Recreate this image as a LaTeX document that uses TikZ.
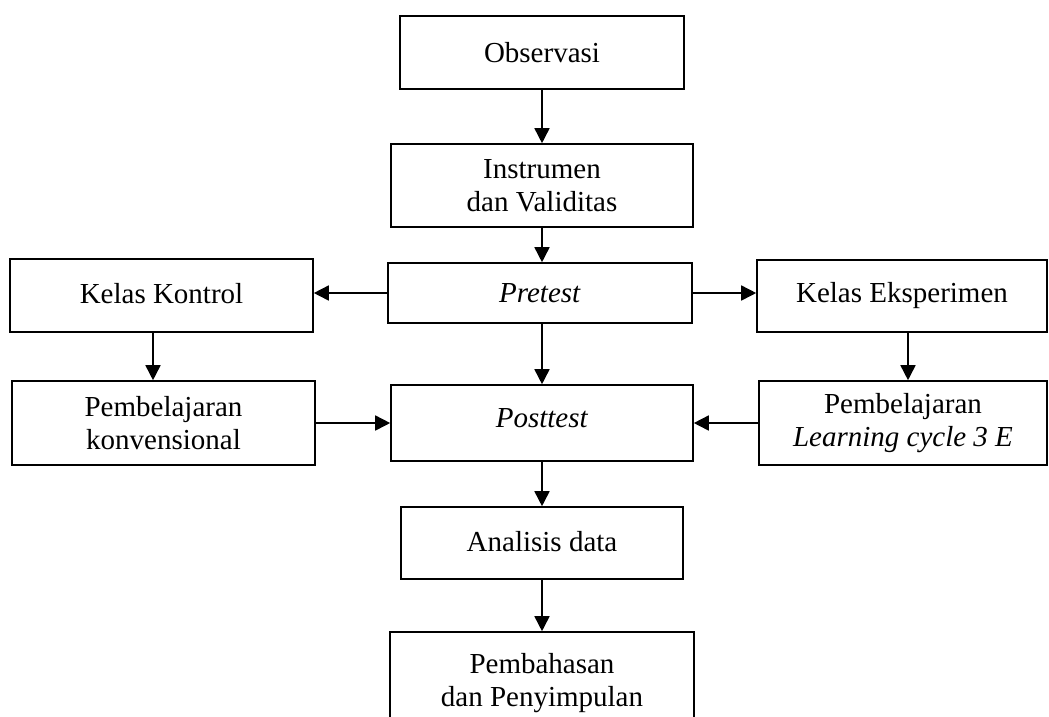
\documentclass[tikz,border=0pt]{standalone}
\usepackage{fontspec}
\setmainfont{Liberation Serif}
\usetikzlibrary{arrows.meta}
\begin{document}
\begin{tikzpicture}[x=1pt,y=-1pt,
  box/.style={draw,line width=1.6pt,rectangle,inner sep=0pt,align=center,
    font=\fontsize{29}{33}\selectfont},
  arr/.style={line width=1.6pt,-{Triangle[width=15pt,length=15pt]}}]
\useasboundingbox (0,0) rectangle (1049,716);
\clip (0,0) rectangle (1049,716);
\node[box,minimum width=284pt,minimum height=73pt] (obs) at (542,52.5) {Observasi};
\node[box,minimum width=302pt,minimum height=83pt] (ins) at (542,185.5) {Instrumen\\dan Validitas};
\node[box,minimum width=304pt,minimum height=60pt] (pre) at (540,293) {\textit{Pretest}};
\node[box,minimum width=303pt,minimum height=73pt] (kk) at (161.5,295.5) {\raisebox{5pt}{Kelas Kontrol}};
\node[box,minimum width=290pt,minimum height=72pt] (ke) at (902,296) {\raisebox{5pt}{Kelas Eksperimen}};
\node[box,minimum width=303pt,minimum height=84pt] (pk) at (163.5,423) {Pembelajaran\\konvensional};
\node[box,minimum width=302pt,minimum height=76pt] (post) at (542,423) {\raisebox{10pt}{\textit{Posttest}}};
\node[box,minimum width=288pt,minimum height=84pt] (plc) at (903,423) {Pembelajaran\\\textit{Learning cycle 3 E}};
\node[box,minimum width=282pt,minimum height=72pt] (ana) at (542,543) {\raisebox{4pt}{Analisis data}};
\node[box,minimum width=304pt,minimum height=108pt,text depth=12pt] (pem) at (542,686) {Pembahasan\\dan Penyimpulan};
\draw[arr] (obs.south) -- (ins.north);
\draw[arr] (ins.south) -- (ins.south |- pre.north);
\draw[arr] (pre.west) -- (pre.west -| kk.east);
\draw[arr] (pre.east) -- (pre.east -| ke.west);
\draw[arr] ([xshift=-8.5pt]kk.south) -- ([xshift=-8.5pt]kk.south |- pk.north);
\draw[arr] ([xshift=6pt]ke.south) -- ([xshift=6pt]ke.south |- plc.north);
\draw[arr] ([xshift=2pt]pre.south) -- ([xshift=2pt]pre.south |- post.north);
\draw[arr] (pk.east) -- (pk.east -| post.west);
\draw[arr] (plc.west) -- (plc.west -| post.east);
\draw[arr] (post.south) -- (post.south |- ana.north);
\draw[arr] (ana.south) -- (ana.south |- pem.north);
\end{tikzpicture}
\end{document}
